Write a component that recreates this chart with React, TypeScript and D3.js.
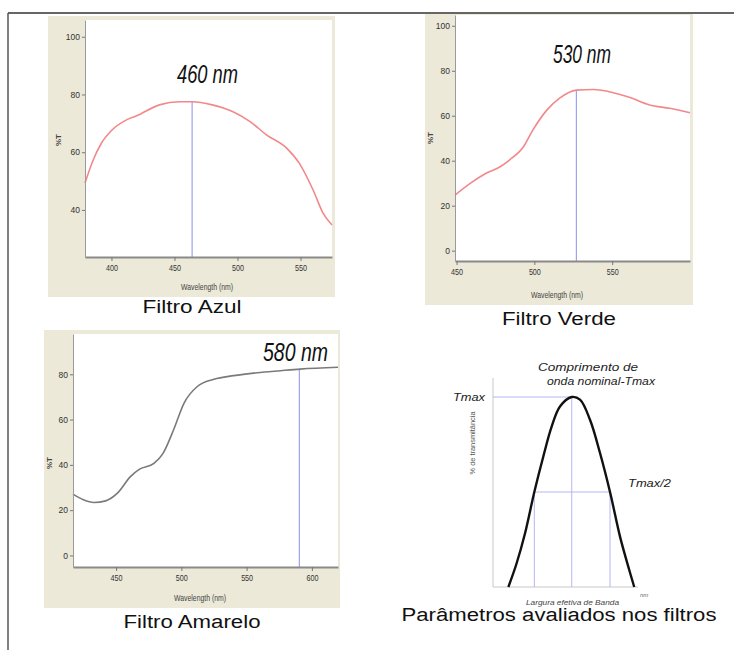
import React, { useEffect, useRef } from "react";
import * as d3 from "d3";

// ---------- Data ----------
const azulWl = [379, 385.5, 392, 400, 412, 420, 438, 454, 464, 480, 496, 510, 523, 539, 549, 560, 568, 575];
const azulT = [49.3, 57.3, 63.1, 67.5, 71.2, 72.6, 76.4, 77.5, 77.5, 76.4, 74.1, 70.6, 66, 61.4, 56.2, 46.9, 38.8, 34.8];
const azulPeak = 464;

const verdeWl = [449, 459, 469, 478, 484, 493, 499, 508, 516, 527, 538, 548, 561, 574, 587, 600];
const verdeT = [24.7, 30, 34.4, 37.3, 40.3, 46.2, 53.6, 62.5, 67.7, 71.4, 71.7, 70.7, 68.2, 64.8, 63.3, 61.3];
const verdePeak = 527;

const amareloWl = [417, 425, 433, 442, 451, 461, 468, 479, 486, 494, 502, 512, 525, 540, 558, 576, 591, 620];
const amareloT = [27.1, 24.6, 23.4, 24.1, 27.5, 34.8, 38.1, 40.7, 45.1, 55.4, 67.2, 74.5, 77.8, 79.4, 80.7, 81.6, 82.3, 83.1];
const amareloPeak = 590.4;

const azulXTicks = [400, 450, 500, 550];
const azulYTicks = [40, 60, 80, 100];
const verdeXTicks = [450, 500, 550];
const verdeYTicks = [0, 20, 40, 60, 80, 100];
const amareloXTicks = [450, 500, 550, 600];
const amareloYTicks = [0, 20, 40, 60, 80];

const bandX = [10.6, 16.3, 22.1, 28.5, 34.7, 40.5, 46.2, 54.3, 60, 66.9, 73.8, 80.7, 87.6, 93.3, 97.4];
const bandY = [0, 12.5, 28.3, 50, 68.7, 84.5, 95, 100, 98.6, 88, 70.5, 50, 26.5, 10.7, 0];
const bandPeakX = 54.3;
const bandHalfLeft = 28.5;
const bandHalfRight = 80.7;

const titles = ["460 nm", "530 nm", "580 nm"];
const captions = ["Filtro Azul", "Filtro Verde", "Filtro Amarelo", "Parâmetros avaliados nos filtros"];

// ---------- Spectrum panel ----------
type SpecProps = {
  wl: number[];
  t: number[];
  peak: number;
  xDomain: [number, number];
  yDomain: [number, number];
  xTicks: number[];
  yTicks: number[];
  bg: [number, number, number, number];
  plot: [number, number, number, number];
  color: string;
  title: string;
  titleBox: [number, number, number, number];
  yLabel: [number, number];
  xLabel: [number, number];
};

function Spectrum(p: SpecProps) {
  const xRef = useRef<SVGGElement>(null);
  const yRef = useRef<SVGGElement>(null);
  const [px0, py0, px1, py1] = p.plot;
  const x = d3.scaleLinear().domain(p.xDomain).range([px0, px1]);
  const y = d3.scaleLinear().domain(p.yDomain).range([py1, py0]);
  const data = p.wl.map((w, i) => [w, p.t[i]] as [number, number]);
  const line = d3
    .line<[number, number]>()
    .x((d) => x(d[0]))
    .y((d) => y(d[1]))
    .curve(d3.curveMonotoneX);
  const peakVal = d3.scaleLinear().domain(p.wl).range(p.t)(p.peak);

  useEffect(() => {
    const gx = d3.select(xRef.current!);
    gx.selectAll("*").remove();
    gx.call(d3.axisBottom(x).tickValues(p.xTicks).tickSize(4).tickSizeOuter(0).tickPadding(4));
    gx.select(".domain").attr("stroke", "#8a8a8a").attr("stroke-width", 2);
    gx.selectAll(".tick line").attr("stroke", "#777");
    gx.selectAll(".tick text")
      .attr("font-size", 9)
      .attr("fill", "#333")
      .attr("font-family", "Liberation Sans, Arial, sans-serif")
      .attr("transform", "scale(0.8,1)");
    const gy = d3.select(yRef.current!);
    gy.selectAll("*").remove();
    gy.call(d3.axisLeft(y).tickValues(p.yTicks).tickSize(3).tickSizeOuter(0).tickPadding(2));
    gy.select(".domain").attr("stroke", "#9a9a9a").attr("stroke-width", 1);
    gy.selectAll(".tick line").attr("stroke", "#777");
    gy.selectAll(".tick text")
      .attr("font-size", 8.5)
      .attr("fill", "#333")
      .attr("font-family", "Liberation Sans, Arial, sans-serif");
  });

  const [bx0, by0, bx1, by1] = p.bg;
  const [tx, tb, tw, ts] = p.titleBox;
  return (
    <g>
      <rect x={bx0} y={by0} width={bx1 - bx0} height={by1 - by0} fill="#ECE9D8" />
      <rect x={px0} y={py0} width={px1 - px0} height={py1 - py0} fill="#ffffff" />
      <line x1={x(p.peak)} x2={x(p.peak)} y1={py1} y2={y(peakVal)} stroke="#9ea2ee" strokeWidth={1.2} />
      <path d={line(data) || ""} fill="none" stroke={p.color} strokeWidth={1.6} />
      <g ref={xRef} transform={`translate(0,${py1})`} />
      <g ref={yRef} transform={`translate(${px0},0)`} />
      <text
        x={tx}
        y={tb}
        fontSize={ts}
        fontStyle="italic"
        fontFamily="Liberation Sans, Arial, sans-serif"
        textLength={tw}
        lengthAdjust="spacingAndGlyphs"
        fill="#111"
      >
        {p.title}
      </text>
      <text
        transform={`translate(${p.yLabel[0]},${p.yLabel[1]}) rotate(-90)`}
        textAnchor="middle"
        fontSize={8}
        fontWeight="bold"
        fill="#444"
        fontFamily="Liberation Sans, Arial, sans-serif"
      >
        %T
      </text>
      <text
        x={p.xLabel[0]}
        y={p.xLabel[1]}
        textAnchor="middle"
        fontSize={8.5}
        fill="#444"
        fontFamily="Liberation Sans, Arial, sans-serif"
        textLength={52}
        lengthAdjust="spacingAndGlyphs"
      >
        Wavelength (nm)
      </text>
    </g>
  );
}

// ---------- Band diagram ----------
function Band() {
  const x = d3.scaleLinear().domain([0, 100]).range([493, 638]);
  const y = d3.scaleLinear().domain([0, 110]).range([587, 378]);
  const data = bandX.map((v, i) => [v, bandY[i]] as [number, number]);
  const line = d3
    .line<[number, number]>()
    .x((d) => x(d[0]))
    .y((d) => y(d[1]))
    .curve(d3.curveCatmullRom.alpha(0.5));
  const blue = "#b3b6f2";
  const ff = "Liberation Sans, Arial, sans-serif";
  return (
    <g>
      <line x1={x(0)} x2={x(0)} y1={y(110)} y2={y(0)} stroke="#c8c8c8" />
      <line x1={x(0)} x2={x(100)} y1={y(0)} y2={y(0)} stroke="#c8c8c8" />
      <line x1={x(0)} x2={x(bandPeakX)} y1={y(100)} y2={y(100)} stroke={blue} />
      <line x1={x(bandPeakX)} x2={x(bandPeakX)} y1={y(100)} y2={y(0)} stroke={blue} />
      <line x1={x(bandHalfLeft)} x2={x(bandHalfRight)} y1={y(50)} y2={y(50)} stroke={blue} />
      <line x1={x(bandHalfLeft)} x2={x(bandHalfLeft)} y1={y(50)} y2={y(0)} stroke={blue} />
      <line x1={x(bandHalfRight)} x2={x(bandHalfRight)} y1={y(50)} y2={y(0)} stroke={blue} />
      <path d={line(data) || ""} fill="none" stroke="#111" strokeWidth={2.4} />
      <text x={538} y={371} fontSize={10} fontStyle="italic" fontFamily={ff} fill="#222" textLength={100} lengthAdjust="spacingAndGlyphs">
        Comprimento de
      </text>
      <text x={547} y={385} fontSize={10} fontStyle="italic" fontFamily={ff} fill="#222" textLength={108} lengthAdjust="spacingAndGlyphs">
        onda nominal-Tmax
      </text>
      <text x={453} y={401} fontSize={11} fontStyle="italic" fontFamily={ff} fill="#222" textLength={32} lengthAdjust="spacingAndGlyphs">
        Tmax
      </text>
      <text x={628} y={487} fontSize={11} fontStyle="italic" fontFamily={ff} fill="#222" textLength={43} lengthAdjust="spacingAndGlyphs">
        Tmax/2
      </text>
      <text transform="translate(475,443) rotate(-90)" textAnchor="middle" fontSize={6.5} fontFamily={ff} fill="#555" textLength={63} lengthAdjust="spacingAndGlyphs">
        % de transmitância
      </text>
      <text x={640} y={597} fontSize={6} fontStyle="italic" fontFamily={ff} fill="#666">
        nm
      </text>
      <text x={526} y={605} fontSize={6.5} fontStyle="italic" fontFamily={ff} fill="#444" textLength={93} lengthAdjust="spacingAndGlyphs">
        Largura efetiva de Banda
      </text>
    </g>
  );
}

export default function App() {
  const ff = "Liberation Sans, Arial, sans-serif";
  return (
    <svg width={734} height={650} style={{ position: "absolute", left: 0, top: 0, background: "#fff" }}>
      <rect x={0} y={0} width={734} height={650} fill="#fff" />
      <line x1={8} x2={734} y1={13} y2={13} stroke="#333" strokeWidth={1.5} />
      <line x1={8} x2={8} y1={13} y2={650} stroke="#555" strokeWidth={1.5} />

      <Spectrum
        wl={azulWl}
        t={azulT}
        peak={azulPeak}
        xDomain={[379, 575]}
        yDomain={[23.7, 105.8]}
        xTicks={azulXTicks}
        yTicks={azulYTicks}
        bg={[48, 16, 335, 297]}
        plot={[85, 20, 332, 257]}
        color="#f2888a"
        title={titles[0]}
        titleBox={[177, 83, 61, 26]}
        yLabel={[61, 140]}
        xLabel={[207, 290]}
      />
      <Spectrum
        wl={verdeWl}
        t={verdeT}
        peak={verdePeak}
        xDomain={[449, 600]}
        yDomain={[-4.6, 104.8]}
        xTicks={verdeXTicks}
        yTicks={verdeYTicks}
        bg={[425, 14, 693, 305]}
        plot={[455, 15, 690, 261]}
        color="#f2888a"
        title={titles[1]}
        titleBox={[553, 63, 58, 26]}
        yLabel={[433, 138]}
        xLabel={[557, 298]}
      />
      <Spectrum
        wl={amareloWl}
        t={amareloT}
        peak={amareloPeak}
        xDomain={[417, 620]}
        yDomain={[-5.1, 97.8]}
        xTicks={amareloXTicks}
        yTicks={amareloYTicks}
        bg={[44, 330, 340, 608]}
        plot={[73, 334, 338, 567]}
        color="#7a7a7a"
        title={titles[2]}
        titleBox={[263, 361, 65, 26]}
        yLabel={[52, 463]}
        xLabel={[200, 601]}
      />
      <Band />

      <text x={192} y={313} textAnchor="middle" fontSize={18} fontFamily={ff} fill="#111" textLength={99} lengthAdjust="spacingAndGlyphs">
        {captions[0]}
      </text>
      <text x={559} y={325} textAnchor="middle" fontSize={18} fontFamily={ff} fill="#111" textLength={114} lengthAdjust="spacingAndGlyphs">
        {captions[1]}
      </text>
      <text x={192} y={628} textAnchor="middle" fontSize={18} fontFamily={ff} fill="#111" textLength={137} lengthAdjust="spacingAndGlyphs">
        {captions[2]}
      </text>
      <text x={559} y={621} textAnchor="middle" fontSize={18} fontFamily={ff} fill="#111" textLength={315} lengthAdjust="spacingAndGlyphs">
        {captions[3]}
      </text>
    </svg>
  );
}
